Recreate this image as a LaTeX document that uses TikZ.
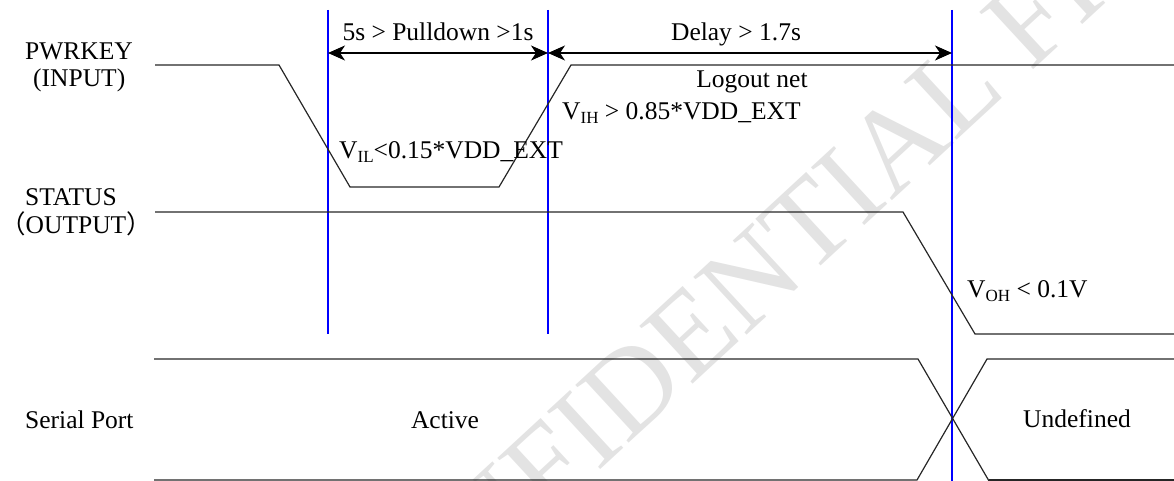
\documentclass[tikz,border=0pt]{standalone}
\usepackage{fontspec}
\setmainfont{Liberation Serif}
\newfontfamily\cjk{Noto Sans CJK SC}
\usetikzlibrary{arrows.meta}
\newcommand{\mysub}[1]{\raisebox{-4pt}{\fontsize{17}{17}\selectfont #1}}
\begin{document}
\begin{tikzpicture}[x=1pt,y=-1pt,
  sig/.style={line width=1.2pt, black!85, line join=miter},
  bluel/.style={blue, line width=1.1pt},
  dimarrow/.style={line width=1.1pt, black,
    {Stealth[length=17pt,width=15pt,inset=5pt]}-{Stealth[length=17pt,width=15pt,inset=5pt]}},
  lbl/.style={font=\fontsize{25.5}{28}\selectfont, inner sep=0pt},
  wmark/.style={font=\fontsize{120}{120}\selectfont, text=black!11, inner sep=0pt}
]
\useasboundingbox (0,0) rectangle (1174,481);
% watermark
\node[wmark, rotate=42.7, anchor=base west] (wm) at (362,690) {CONFIDENTIAL FILE};

% left labels
\node[lbl, anchor=base west] (pk1) at (25,60) {PWRKEY};
\node[lbl, anchor=base west] (pk2) at (33,87) {(INPUT)};
\node[lbl, anchor=base west] (st1) at (25,205) {STATUS};
\node[lbl, anchor=base west] (st2) at (0,233) {{\cjk （}OUTPUT{\cjk ）}};
\node[lbl, anchor=base west] (sp) at (25,428) {Serial Port};

% blue markers
\coordinate (b1t) at (328,10); \coordinate (b1b) at (328,334);
\coordinate (b2t) at (548,10); \coordinate (b2b) at (548,334);
\coordinate (b3t) at (952,10); \coordinate (b3b) at (952,481);
\draw[bluel] (b1t) -- (b1b);
\draw[bluel] (b2t) -- (b2b);
\draw[bluel] (b3t) -- (b3b);

% dimension arrows
\coordinate (d1) at (328,53); \coordinate (d2) at (548,53); \coordinate (d3) at (952,53);
\draw[dimarrow] (d1) -- (d2);
\draw[dimarrow] (d2) -- (d3);
\node[lbl, anchor=base] (t1) at (438,41) {5s > Pulldown >1s};
\node[lbl, anchor=base] (t2) at (736,41) {Delay > 1.7s};

% PWRKEY signal
\draw[sig] (155,65) -- (279,65) -- (350,187) -- (499,187) -- (571,65) -- (1174,65);
\node[lbl, anchor=base] (lo) at (752,88) {Logout net};
\node[lbl, anchor=base west] (vih) at (562,120) {V\mysub{IH} > 0.85*VDD\_EXT};
\node[lbl, anchor=base west] (vil) at (339,159) {V\mysub{IL}<0.15*VDD\_EXT};

% STATUS signal
\draw[sig] (155,212) -- (903,212) -- (975,334) -- (1174,334);
\node[lbl, anchor=base west] (voh) at (967,297) {V\mysub{OH} < 0.1V};

% Serial port
\draw[sig] (154,359) -- (918,359) -- (989,481);
\draw[sig] (154,480) -- (917,480) -- (987,359) -- (1174,359);
\draw[sig] (989,480) -- (1174,480);
\node[lbl, anchor=base] (act) at (445,428) {Active};
\node[lbl, anchor=base] (und) at (1077,427) {Undefined};
\end{tikzpicture}
\end{document}
